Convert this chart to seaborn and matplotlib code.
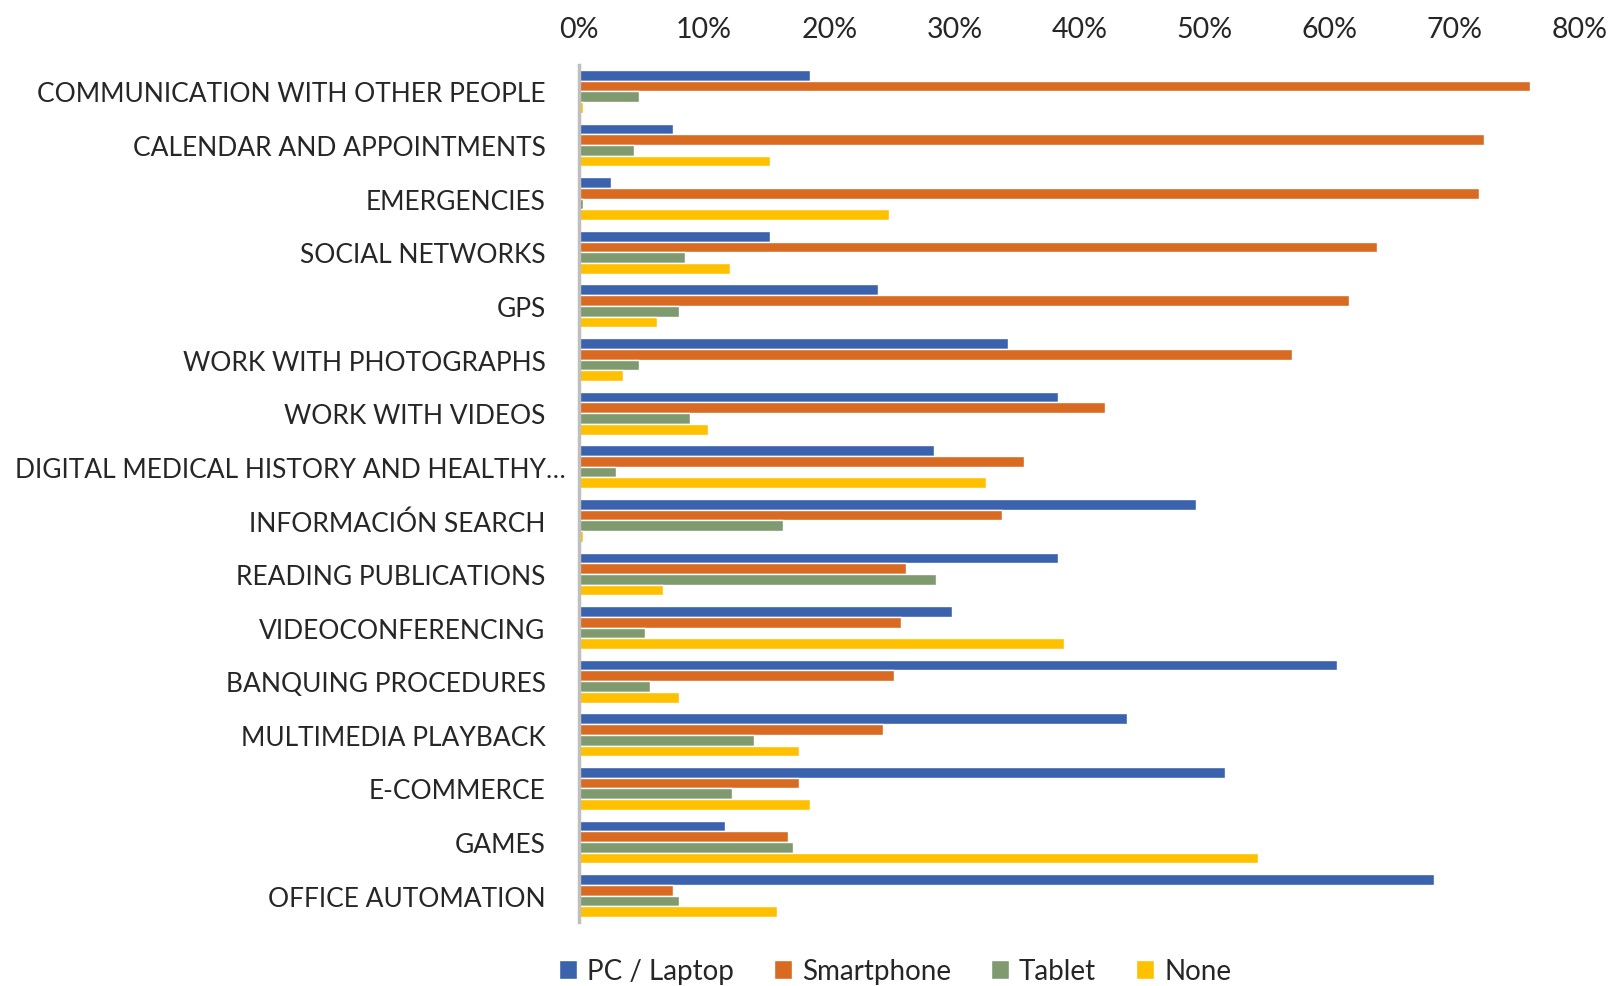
import pandas as pd
import seaborn as sns
import matplotlib.pyplot as plt
from matplotlib.ticker import FuncFormatter
from matplotlib.transforms import ScaledTranslation

# Attività (dall'alto verso il basso, come nel grafico)
activities = [
    'COMMUNICATION WITH OTHER PEOPLE',
    'CALENDAR AND APPOINTMENTS',
    'EMERGENCIES',
    'SOCIAL NETWORKS',
    'GPS',
    'WORK WITH PHOTOGRAPHS',
    'WORK WITH VIDEOS',
    'DIGITAL MEDICAL HISTORY AND HEALTHY\u2026',
    'INFORMACIÓN SEARCH',
    'READING PUBLICATIONS',
    'VIDEOCONFERENCING',
    'BANQUING PROCEDURES',
    'MULTIMEDIA PLAYBACK',
    'E-COMMERCE',
    'GAMES',
    'OFFICE AUTOMATION',
]

devices = ['PC / Laptop', 'Smartphone', 'Tablet', 'None']

# Percentuali
pc_laptop = [18.5, 7.5, 2.6, 15.3, 23.9, 34.3, 38.3, 28.4, 49.3, 38.3, 29.8, 60.6, 43.8, 51.6, 11.7, 68.3]
smartphone = [76.0, 72.3, 71.9, 63.8, 61.5, 57.0, 42.0, 35.6, 33.8, 26.1, 25.7, 25.2, 24.3, 17.6, 16.7, 7.5]
tablet = [4.8, 4.4, 0.3, 8.5, 8.0, 4.8, 8.9, 3.0, 16.3, 28.5, 5.3, 5.7, 14.0, 12.2, 17.1, 8.0]
none = [0.3, 15.3, 24.8, 12.1, 6.2, 3.5, 10.3, 32.5, 0.3, 6.7, 38.8, 8.0, 17.6, 18.5, 54.3, 15.8]

colors = ['#3A62AD', '#D86A21', '#7F9A6F', '#FFC000']

rows = []
for series, name in zip([pc_laptop, smartphone, tablet, none], devices):
    for act, val in zip(activities, series):
        rows.append((act, name, val))
df = pd.DataFrame(rows, columns=['Activity', 'Device', 'Value'])

sns.set_style('white')
plt.rcParams['font.family'] = ['Lato', 'DejaVu Sans']

fig = plt.figure(figsize=(16.1, 9.87), dpi=100)
ax = fig.add_axes([0.3596, 0.0644, 0.6218, 0.8691])

sns.barplot(data=df, x='Value', y='Activity', hue='Device', hue_order=devices,
            order=activities, palette=colors, orient='h', width=0.8,
            saturation=1, ax=ax, legend=True)

ax.set_xlim(0, 80)
ax.set_xticks(range(0, 81, 10))
ax.xaxis.set_major_formatter(FuncFormatter(lambda v, p: f'{v:.0f}%'))
ax.xaxis.tick_top()
ax.tick_params(axis='x', length=0, pad=16, labelsize=20.5)
ax.tick_params(axis='y', length=0, pad=24, labelsize=19)
ax.set_xlabel('')
ax.set_ylabel('')

# l'etichetta troncata sporge un po' a destra come nell'originale
for lab in ax.get_yticklabels():
    if lab.get_text().startswith('DIGITAL'):
        lab.set_transform(lab.get_transform() + ScaledTranslation(0.2, 0, fig.dpi_scale_trans))

for side in ['top', 'right', 'bottom']:
    ax.spines[side].set_visible(False)
ax.spines['left'].set_color('#BFBFBF')
ax.spines['left'].set_linewidth(2.5)

# Legenda in basso
handles, labels = ax.get_legend_handles_labels()
ax.get_legend().remove()
fig.legend(handles, labels, loc='center', bbox_to_anchor=(0.556, 0.015),
           ncol=4, frameon=False, fontsize=20, handlelength=0.65,
           handleheight=0.7, handletextpad=0.35, columnspacing=1.45)

plt.savefig('out.png', dpi=100)
